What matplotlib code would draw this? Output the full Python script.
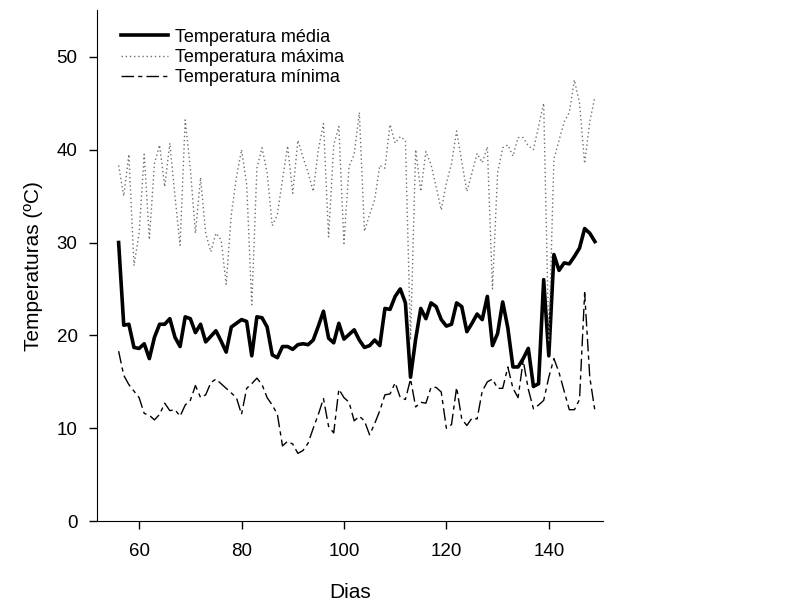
import matplotlib
matplotlib.use("Agg")
import matplotlib.pyplot as plt
import numpy as np

plt.rcParams['font.family'] = ['Liberation Sans', 'DejaVu Sans']

# Days of the measurements
dias = np.arange(56, 150)

# Daily mean temperature
temp_media = [
    30.0, 21.1, 21.2, 18.7, 18.6, 19.1, 17.5, 19.8, 21.2, 21.2,
    21.8, 19.8, 18.8, 22.0, 21.8, 20.3, 21.2, 19.3, 19.9, 20.5,
    19.4, 18.2, 20.9, 21.3, 21.7, 21.5, 17.8, 22.0, 21.9, 20.9,
    17.9, 17.6, 18.8, 18.8, 18.5, 19.0, 19.1, 19.0, 19.5, 21.0,
    22.6, 19.7, 19.2, 21.3, 19.6, 20.1, 20.6, 19.5, 18.7, 18.9,
    19.5, 18.9, 22.9, 22.8, 24.2, 25.0, 23.5, 15.5, 19.6, 22.9,
    21.8, 23.5, 23.1, 21.7, 21.0, 21.2, 23.5, 23.1, 20.4, 21.3,
    22.3, 21.7, 24.2, 18.9, 20.2, 23.6, 20.8, 16.6, 16.6, 17.5,
    18.6, 14.5, 14.8, 26.0, 17.8, 28.7, 27.0, 27.8, 27.7, 28.5,
    29.4, 31.5, 31.0, 30.1,
]

# Daily maximum temperature
temp_maxima = [
    38.3, 35.0, 39.5, 27.5, 31.0, 39.5, 30.3, 38.5, 40.5, 36.0,
    40.7, 35.0, 29.7, 43.2, 38.0, 31.0, 37.0, 31.0, 29.0, 31.0,
    30.3, 25.5, 33.0, 37.0, 40.0, 36.3, 23.3, 38.0, 40.2, 37.5,
    31.8, 33.0, 36.8, 40.4, 35.3, 41.0, 39.2, 37.5, 35.5, 40.0,
    42.8, 30.6, 40.5, 42.5, 29.9, 38.2, 39.5, 44.0, 31.2, 33.0,
    34.6, 38.3, 38.0, 42.7, 40.7, 41.4, 41.0, 19.5, 40.0, 35.5,
    39.8, 38.4, 36.0, 33.5, 36.4, 38.5, 42.0, 38.7, 35.5, 37.5,
    39.6, 38.6, 40.3, 25.0, 37.5, 40.2, 40.5, 39.3, 41.3, 41.3,
    40.4, 40.0, 42.5, 45.0, 19.3, 39.0, 41.0, 43.0, 44.0, 47.5,
    45.0, 38.5, 43.0, 45.7,
]

# Daily minimum temperature
temp_minima = [
    18.3, 15.7, 14.7, 14.0, 13.3, 11.6, 11.4, 10.9, 11.5, 12.7,
    11.9, 12.0, 11.3, 12.5, 13.0, 14.6, 13.3, 13.6, 14.9, 15.3,
    14.8, 14.3, 13.8, 13.3, 11.5, 14.3, 14.8, 15.4, 14.7, 13.3,
    12.5, 11.5, 8.1, 8.6, 8.3, 7.3, 7.6, 8.4, 10.0, 11.5,
    13.2, 10.2, 9.5, 14.2, 13.3, 12.8, 10.8, 11.3, 10.8, 9.3,
    10.5, 11.9, 13.6, 13.7, 14.9, 13.3, 13.1, 15.3, 12.3, 12.8,
    12.7, 14.4, 14.4, 13.9, 10.0, 10.4, 14.4, 11.0, 10.3, 11.1,
    11.0, 14.0, 15.0, 15.3, 14.3, 14.3, 16.6, 14.3, 13.3, 17.3,
    14.2, 12.1, 12.5, 13.0, 15.5, 17.5, 16.0, 14.0, 12.0, 12.0,
    13.1, 24.6, 15.5, 11.9,
]

fig = plt.figure(figsize=(7.96, 6.06), dpi=100)
ax = fig.add_axes([0.122, 0.14, 0.635, 0.843])

ax.plot(dias, temp_media, color='black', linewidth=2.6, label='Temperatura média')
ax.plot(dias, temp_maxima, color='#707070', linewidth=1.0,
        linestyle=(0, (1, 2)), label='Temperatura máxima')
ax.plot(dias, temp_minima, color='black', linewidth=1.0,
        linestyle=(0, (9, 3, 3, 3)), label='Temperatura mínima')

ax.set_xlim(51.8, 150.5)
ax.set_ylim(0, 55)
ax.set_xticks([60, 80, 100, 120, 140])
ax.set_yticks([0, 10, 20, 30, 40, 50])

ax.spines['top'].set_visible(False)
ax.spines['right'].set_visible(False)
ax.tick_params(direction='out', length=6, width=1, labelsize=13.5)
ax.tick_params(axis='x', pad=10)
ax.tick_params(axis='y', pad=8)

ax.set_xlabel('Dias', fontsize=15, labelpad=16)
ax.set_ylabel('Temperaturas (ºC)', fontsize=15, labelpad=10)

ax.legend(loc='upper left', bbox_to_anchor=(0.025, 0.985), frameon=False,
          fontsize=13, handlelength=2.6, handletextpad=0.4,
          labelspacing=0.18, borderaxespad=0.2)

fig.savefig('out.png', dpi=100)
